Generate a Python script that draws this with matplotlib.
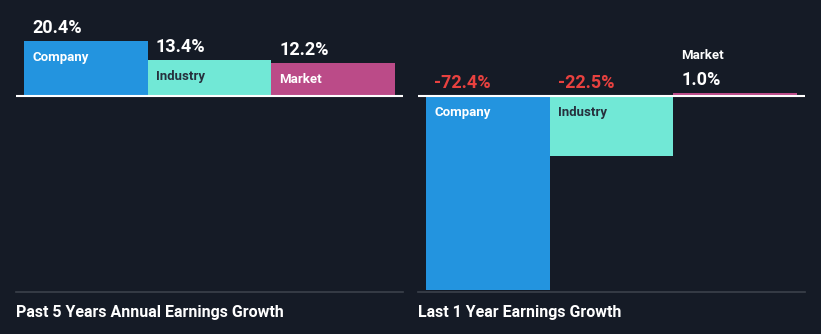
import matplotlib
matplotlib.use("Agg")
import matplotlib.pyplot as plt

categories = ["Company", "Industry", "Market"]
past5_values = [20.4, 13.4, 12.2]
last1_values = [-72.4, -22.5, 1.0]
panel_titles = ["Past 5 Years Annual Earnings Growth", "Last 1 Year Earnings Growth"]

BG = "#151b26"
bar_colors = ["#2394df", "#71e8d6", "#bb4b88"]
label_colors = ["#ffffff", "#26303d", "#ffffff"]
NEG = "#e8413f"
W, H = 821, 334

plt.rcParams["font.family"] = ["Roboto", "DejaVu Sans"]
fig = plt.figure(figsize=(W / 100, H / 100), dpi=100, facecolor=BG)

PX = 2.68  # px per unit
base_px = 96
bot_px = 292
ylim = (-(bot_px - base_px) / PX, base_px / PX)
px_per_pt = 100 / 72


def make_panel(x0, x1, values, title, market_above):
    ax = fig.add_axes([x0 / W, (H - bot_px) / H, (x1 - x0) / W, bot_px / H])
    ax.set_facecolor(BG)
    ax.set_ylim(*ylim)
    lpad = (24 - 16) / 123
    rpad = (403 - 395) / 123
    ax.set_xlim(-0.5 - lpad, 2.5 + rpad)
    xs = list(range(len(values)))
    ax.bar(xs, values, width=1.0, color=bar_colors, edgecolor="none", zorder=2)
    ax.axhline(0, color="white", lw=1.5, zorder=3)
    for s in ["top", "left", "right"]:
        ax.spines[s].set_visible(False)
    ax.spines["bottom"].set_color("#3b414b")
    ax.spines["bottom"].set_linewidth(1.2)
    ax.set_xticks([])
    ax.set_yticks([])
    tx = 8 / 123
    for i, v in enumerate(values):
        xl = i - 0.5 + tx
        col = NEG if v < 0 else "white"
        txt = f"{v:.1f}%"
        anchor = v if v >= 0 else 0
        ax.annotate(txt, (xl, anchor), xytext=(0, 8 / px_per_pt), textcoords="offset points",
                    ha="left", va="baseline", color=col, fontsize=13, fontweight="bold", zorder=4)
        if v >= 0 and market_above and i == 2:
            ax.annotate(categories[i], (xl, v), xytext=(0, 34 / px_per_pt), textcoords="offset points",
                        ha="left", va="baseline", color="white", fontsize=9.5, fontweight="bold", zorder=4)
        else:
            top = max(v, 0)
            ax.annotate(categories[i], (xl, top), xytext=(0, -10 / px_per_pt), textcoords="offset points",
                        ha="left", va="top", color=label_colors[i], fontsize=9.5, fontweight="bold", zorder=4)
    fig.text(x0 / W, 1 - 312 / H, title, ha="left", va="center", color="white",
             fontsize=11.5, fontweight="bold")
    return ax


make_panel(16, 403, past5_values, panel_titles[0], False)
make_panel(418, 805, last1_values, panel_titles[1], True)

fig.savefig("out.png", dpi=100, facecolor=BG)
